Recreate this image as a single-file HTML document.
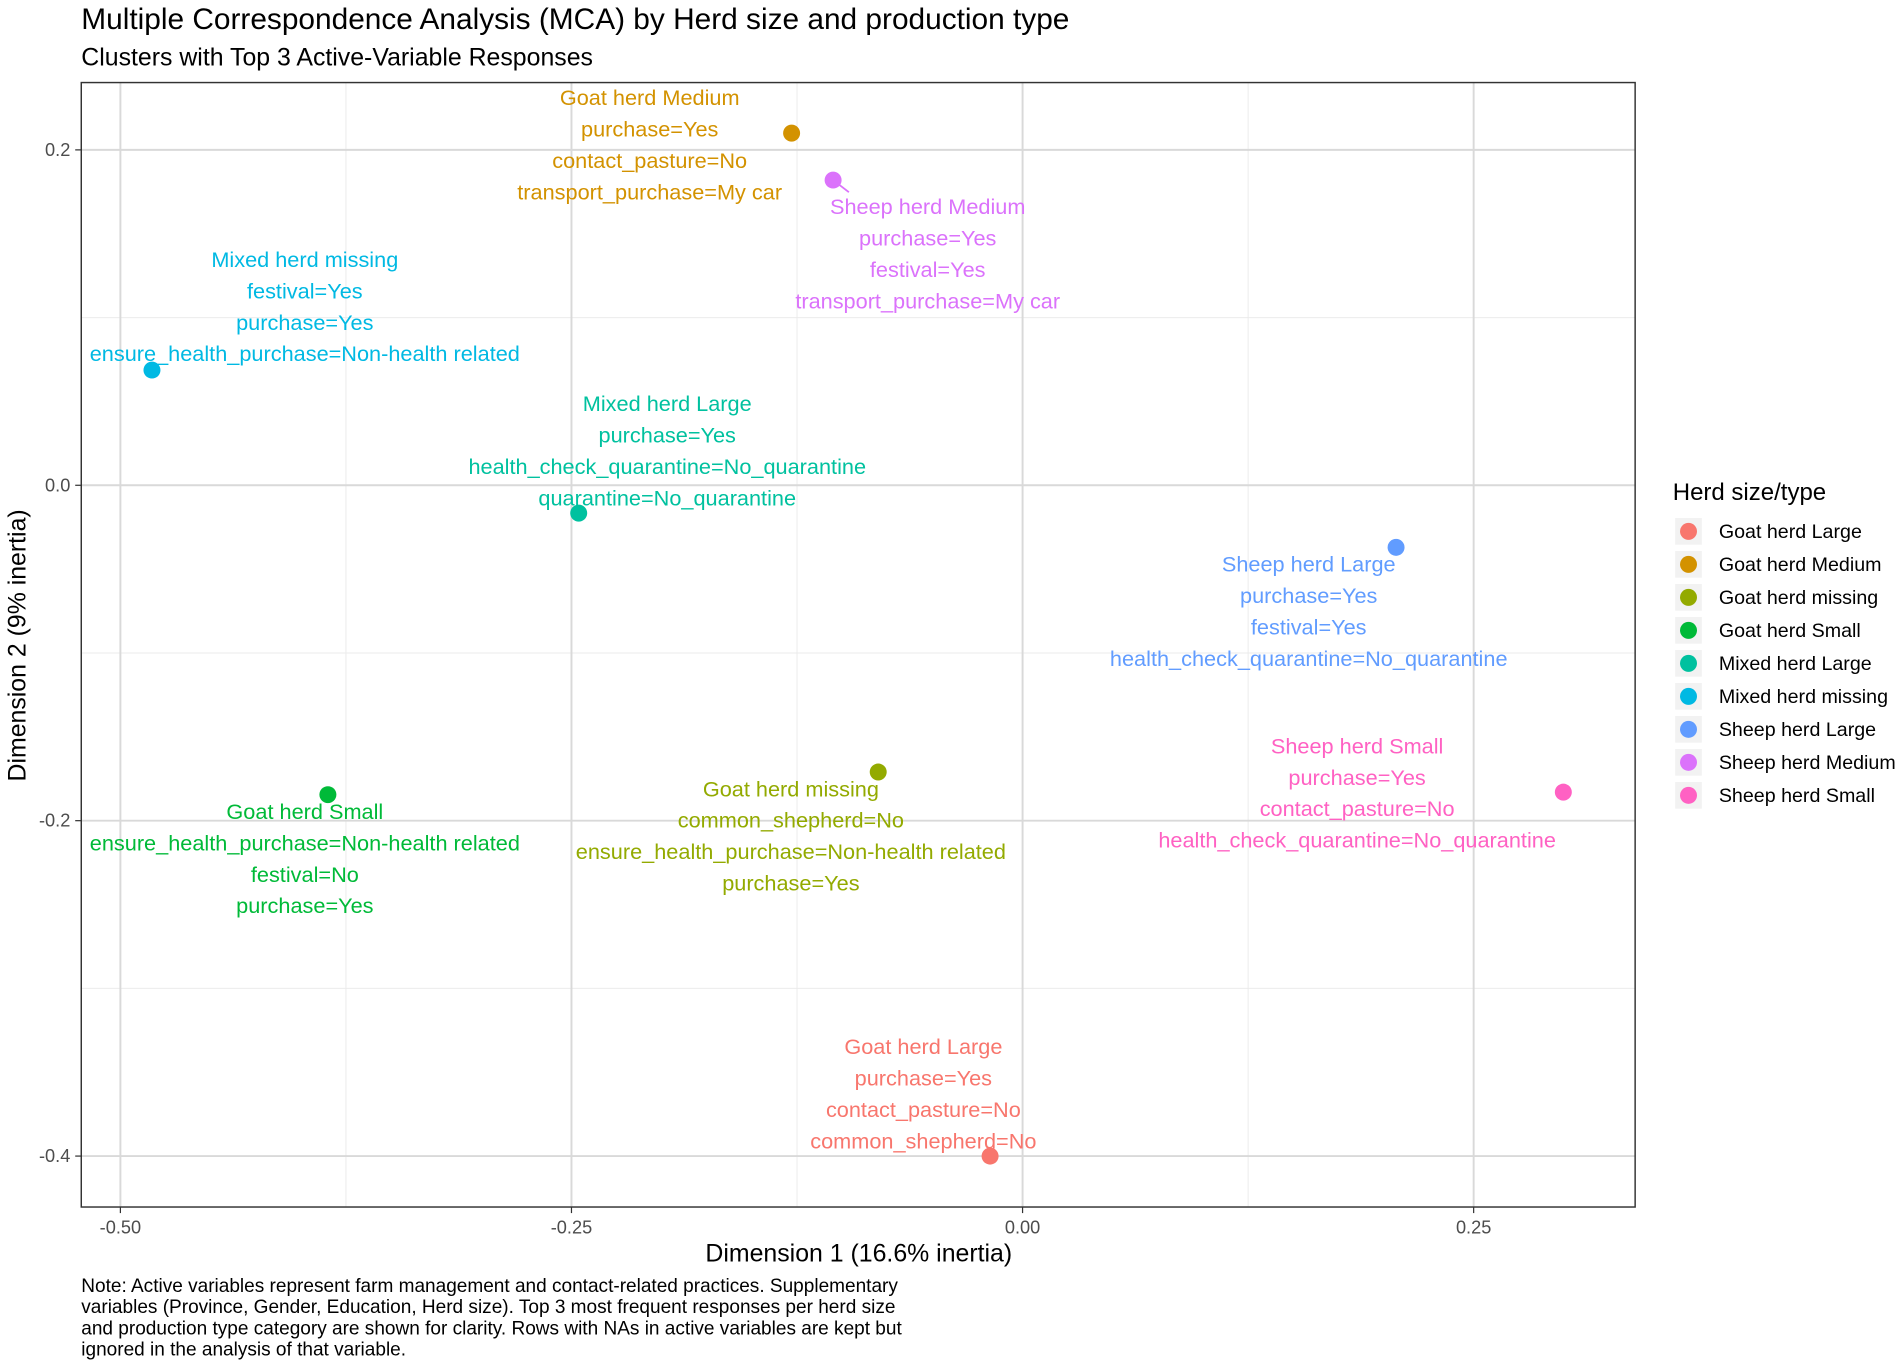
<!DOCTYPE html>
<html><head><meta charset="utf-8"><style>
html,body{margin:0;padding:0;background:#fff}
svg{display:block;font-family:"Liberation Sans",Arial,sans-serif}
</style></head><body>
<svg id="chart" width="1902" height="1366" viewBox="0 0 1568 1126" xmlns="http://www.w3.org/2000/svg">
<text x="67" y="24" font-size="24.6" fill="#000">Multiple Correspondence Analysis (MCA) by Herd size and production type</text>
<text x="67" y="54" font-size="20.5" fill="#000">Clusters with Top 3 Active-Variable Responses</text>
<rect x="67" y="68" width="1281" height="927" fill="#fff"/>
<g id="grid"></g>
<g id="marks"></g>
<rect x="67" y="68" width="1281" height="927" fill="none" stroke="#333" stroke-width="1.2"/>
<g id="ticks"></g>
<text x="708" y="1040" font-size="20.5" text-anchor="middle">Dimension 1 (16.6% inertia)</text>
<text transform="translate(21,532) rotate(-90)" font-size="20.5" text-anchor="middle">Dimension 2 (9% inertia)</text>
<g id="legend">
<text x="1379" y="412" font-size="19.8">Herd size/type</text>
</g>
<g font-size="15.7" fill="#000">
<text x="67" y="1065">Note: Active variables represent farm management and contact-related practices. Supplementary</text>
<text x="67" y="1082.5">variables (Province, Gender, Education, Herd size). Top 3 most frequent responses per herd size</text>
<text x="67" y="1100">and production type category are shown for clarity. Rows with NAs in active variables are kept but</text>
<text x="67" y="1117.5">ignored in the analysis of that variable.</text>
</g>
</svg>
<script>
const categories=["Goat herd Large","Goat herd Medium","Goat herd missing","Goat herd Small","Mixed herd Large","Mixed herd missing","Sheep herd Large","Sheep herd Medium","Sheep herd Small"];
const dim1=[-0.018,-0.128,-0.080,-0.385,-0.246,-0.4825,0.207,-0.105,0.2997];
const dim2=[-0.400,0.210,-0.171,-0.1845,-0.0166,0.0687,-0.037,0.182,-0.183];
const labels=[
["purchase=Yes","contact_pasture=No","common_shepherd=No"],
["purchase=Yes","contact_pasture=No","transport_purchase=My car"],
["common_shepherd=No","ensure_health_purchase=Non-health related","purchase=Yes"],
["ensure_health_purchase=Non-health related","festival=No","purchase=Yes"],
["purchase=Yes","health_check_quarantine=No_quarantine","quarantine=No_quarantine"],
["festival=Yes","purchase=Yes","ensure_health_purchase=Non-health related"],
["purchase=Yes","festival=Yes","health_check_quarantine=No_quarantine"],
["purchase=Yes","festival=Yes","transport_purchase=My car"],
["purchase=Yes","contact_pasture=No","health_check_quarantine=No_quarantine"]];
const xTicks=[-0.5,-0.25,0,0.25];
const xTickLabels=["-0.50","-0.25","0.00","0.25"];
const yTicks=[0.2,0,-0.2,-0.4];
const yTickLabels=["0.2","0.0","-0.2","-0.4"];
const xMinor=[-0.375,-0.125,0.125];
const yMinor=[0.1,-0.1,-0.3];
const colors=["#F8766D","#D39200","#93AA00","#00BA38","#00C19F","#00B9E3","#619CFF","#DB72FB","#FF61C3"];
const offs=[[-55,-90],[-117,-29],[-72,14],[-19,14],[73,-90],[126,-91],[-72,14],[78,22],[-170,-38]];
const X=v=>843+v*1487.5, Y=v=>400-v*1382.5;
const NS="http://www.w3.org/2000/svg";
function mk(t,a,p){const e=document.createElementNS(NS,t);for(const k in a)e.setAttribute(k,a[k]);p.appendChild(e);return e;}
const grid=document.getElementById('grid'),marks=document.getElementById('marks'),ticks=document.getElementById('ticks'),leg=document.getElementById('legend');
xMinor.forEach(v=>{const l=mk('line',{x1:X(v),x2:X(v),y1:68,y2:995,stroke:'#ebebeb','stroke-width':0.8},grid);});
yMinor.forEach(v=>{const l=mk('line',{x1:67,x2:1348,y1:Y(v),y2:Y(v),stroke:'#ebebeb','stroke-width':0.8},grid);});
xTicks.forEach((v,i)=>{const l=mk('line',{x1:X(v),x2:X(v),y1:68,y2:995,stroke:'#d9d9d9','stroke-width':1.6},grid);
const tk=mk('line',{x1:X(v),x2:X(v),y1:995,y2:1000,stroke:'#333'},ticks);
const t=mk('text',{x:X(v),y:1017,'font-size':15,fill:'#4d4d4d','text-anchor':'middle'},ticks);t.textContent=xTickLabels[i];});
yTicks.forEach((v,i)=>{const l=mk('line',{x1:67,x2:1348,y1:Y(v),y2:Y(v),stroke:'#d9d9d9','stroke-width':1.6},grid);
const tk=mk('line',{x1:62,x2:67,y1:Y(v),y2:Y(v),stroke:'#333'},ticks);
const t=mk('text',{x:58,y:Y(v)+5,'font-size':15,fill:'#4d4d4d','text-anchor':'end'},ticks);t.textContent=yTickLabels[i];});
categories.forEach((c,i)=>{
const px=X(dim1[i]),py=Y(dim2[i]);
const lx=px+offs[i][0],ly=py+offs[i][1];
if(i===7){const s=mk('line',{x1:px,y1:py,x2:px+13,y2:py+10,stroke:colors[i],'stroke-width':1.5},marks);}
const g=mk('g',{},marks);


[c].concat(labels[i]).forEach((s,j)=>{const t=mk('text',{x:lx,y:ly+6+j*25.9,'font-size':17.9,fill:colors[i],'text-anchor':'middle'},g);t.textContent=s;});
const p=mk('circle',{cx:px,cy:py,r:7,fill:colors[i]},marks);


const ey=438+i*27.2;
const kb=mk('rect',{x:1381,y:ey-11,width:22,height:22,fill:'#f2f2f2'},leg);


const kc=mk('circle',{cx:1392,cy:ey,r:7,fill:colors[i]},leg);


const kt=mk('text',{x:1417,y:ey+5.5,'font-size':16.2},leg);kt.textContent=c;


});
</script>
</body></html>
